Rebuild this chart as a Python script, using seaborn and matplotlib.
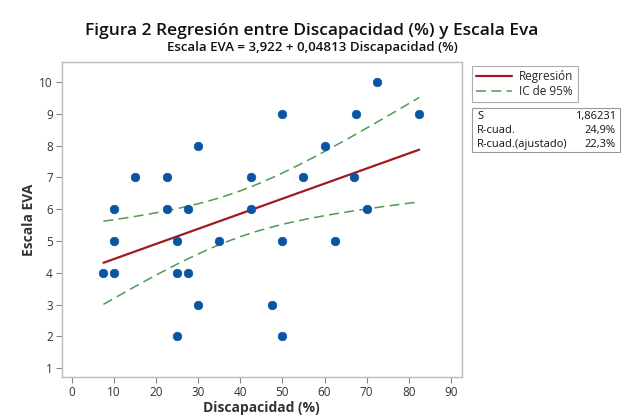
import matplotlib.pyplot as plt
import matplotlib.patches as mpatches
from matplotlib.lines import Line2D
import seaborn as sns
import numpy as np
import pandas as pd

# Data
discapacidad = [7.5, 10, 10, 10, 15, 22.5, 22.5, 25, 25, 25, 27.5, 27.5, 30, 30, 35,
                42.5, 42.5, 47.5, 50, 50, 50, 55, 60, 62.5, 67, 67.5, 70, 72.5, 82.5]
escala_eva = [4, 6, 5, 4, 7, 7, 6, 5, 4, 2, 6, 4, 8, 3, 5,
              7, 6, 3, 9, 5, 2, 7, 8, 5, 7, 9, 6, 10, 9]

# Values printed by the original software
intercept, slope = 3.922, 0.04813
s_val, r2, r2_adj = "1,86231", "24,9%", "22,3%"

df = pd.DataFrame({"x": discapacidad, "y": escala_eva})

# fitted line and 95% confidence band (same as what Minitab draws)
x = np.array(discapacidad, dtype=float)
y = np.array(escala_eva, dtype=float)
n = len(x)
b1, b0 = np.polyfit(x, y, 1)
resid = y - (b0 + b1 * x)
s = np.sqrt((resid ** 2).sum() / (n - 2))
t = 2.052  # t(0.975, 27)
xg = np.linspace(x.min(), x.max(), 100)
yg = b0 + b1 * xg
se = s * np.sqrt(1 / n + (xg - x.mean()) ** 2 / ((x - x.mean()) ** 2).sum())
fit = pd.DataFrame({"x": xg, "y": yg, "lo": yg - t * se, "hi": yg + t * se})

sns.set_style("white")
plt.rcParams["font.family"] = ["Open Sans", "DejaVu Sans"]

fig = plt.figure(figsize=(6.24, 4.19), dpi=100)
ax = fig.add_axes([0.099, 0.100, 0.641, 0.752])

red = "#9e1b1f"
green = "#4f9a55"
blue = "#0a55a3"

sns.lineplot(data=fit, x="x", y="hi", ax=ax, color=green, lw=1.1)
sns.lineplot(data=fit, x="x", y="lo", ax=ax, color=green, lw=1.1)
for ln in ax.lines:
    ln.set_dashes((6.5, 3.5))
sns.lineplot(data=fit, x="x", y="y", ax=ax, color=red, lw=1.6)
sns.scatterplot(data=df, x="x", y="y", ax=ax, color=blue, s=38, marker="o",
                edgecolor=blue, linewidth=0.5, zorder=5)

ax.set_xlim(-2.4, 92.6)
ax.set_ylim(0.72, 10.63)
ax.set_xticks(range(0, 91, 10))
ax.set_yticks(range(1, 11))
ax.tick_params(axis="both", direction="out", length=4, width=0.8, color="#888888",
               labelsize=8.5, labelcolor="#333333", bottom=True, left=True, pad=2.5)
for sp in ax.spines.values():
    sp.set_color("#bbbbbb")
    sp.set_linewidth(1)
ax.set_xlabel("Discapacidad (%)", fontsize=10, fontweight="bold", color="#333333", labelpad=1)
ax.set_ylabel("Escala EVA", fontsize=10, fontweight="bold", color="#333333", labelpad=2)

fig.text(0.5, 0.926, "Figura 2 Regresión entre Discapacidad (%) y Escala Eva",
         ha="center", va="center", fontsize=12.5, fontweight="semibold", color="#111111")
fig.text(0.5, 0.887, f"Escala EVA = {intercept:.3f} + {slope:.5f} Discapacidad (%)".replace(".", ","),
         ha="center", va="center", fontsize=9.5, fontweight="semibold", color="#111111")

# legend box
handles = [Line2D([], [], color=red, lw=1.6),
           Line2D([], [], color=green, lw=1.1, dashes=(6.5, 3.5))]
leg = fig.legend(handles, ["Regresión", "IC de 95%"], loc="upper left",
                 bbox_to_anchor=(0.757, 0.843), borderaxespad=0, frameon=True, fancybox=False,
                 fontsize=8.5, handlelength=3, handletextpad=0.6, borderpad=0.35,
                 labelspacing=0.15)
leg.get_frame().set_edgecolor("#999999")
leg.get_frame().set_linewidth(0.8)

# stats box
box = mpatches.Rectangle((0.757, 0.637), 0.237, 0.105, transform=fig.transFigure,
                         fill=False, edgecolor="#999999", lw=0.8)
fig.add_artist(box)
rows = [("S", s_val), ("R-cuad.", r2), ("R-cuad.(ajustado)", r2_adj)]
for i, (lab, val) in enumerate(rows):
    yy = 0.722 - i * 0.033
    fig.text(0.765, yy, lab, fontsize=8, va="center", ha="left", color="#111111")
    fig.text(0.987, yy, val, fontsize=8, va="center", ha="right", color="#111111")

fig.savefig("out.png", dpi=100, facecolor="white")
